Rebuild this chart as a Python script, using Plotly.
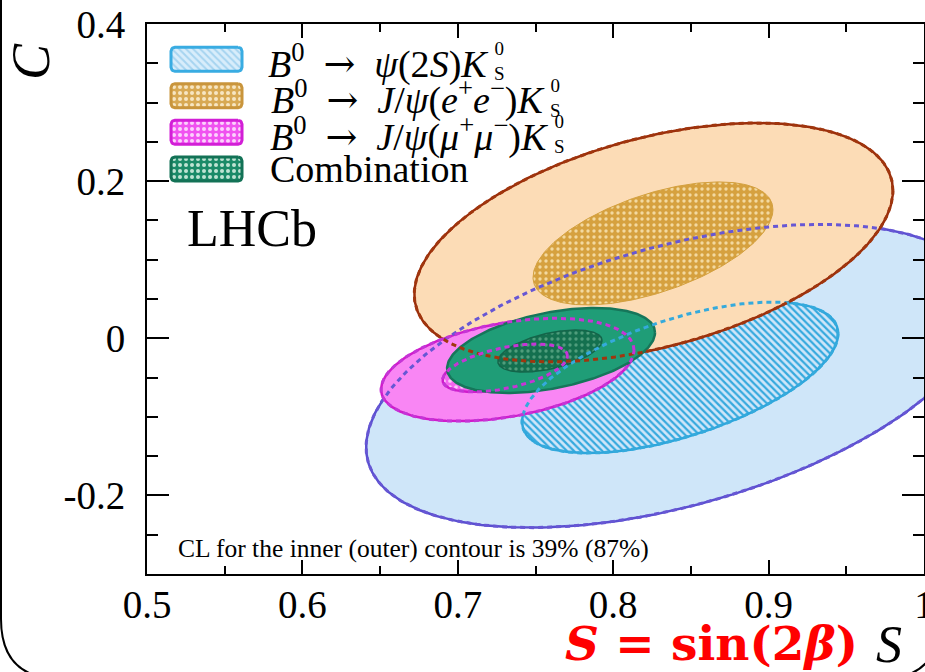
import numpy as np
import plotly.graph_objects as go

# ---------------- data ----------------
channels = ["psi2S", "Jpsi_ee", "Jpsi_mumu", "combination"]

# outer (87% CL) contours: centre, widths, correlation
S_outer = [0.840, 0.826, 0.732, 0.760]
C_outer = [-0.048, 0.122, -0.040, -0.0155]
sigS_outer = [0.199, 0.154, 0.0814, 0.0669]
sigC_outer = [0.193, 0.152, 0.0655, 0.0541]
rho_outer = [0.469, 0.434, 0.38, 0.42]

# inner (39% CL) contours
S_inner = [0.843, 0.8256, 0.7304, 0.7593]
C_inner = [-0.050, 0.1207, -0.0378, -0.0162]
sigS_inner = [0.1017, 0.0772, 0.0402, 0.0335]
sigC_inner = [0.0961, 0.0783, 0.0305, 0.0267]
rho_inner = [0.582, 0.55, 0.50, 0.50]

x_tickvals = [0.5, 0.6, 0.7, 0.8, 0.9, 1.0]
x_ticktext = ["0.5", "0.6", "0.7", "0.8", "0.9", "1"]
x_minor = [0.55, 0.65, 0.75, 0.85, 0.95]
y_tickvals = [-0.2, 0.0, 0.2, 0.4]
y_ticktext = ["-0.2", "0", "0.2", "0.4"]
y_minor = [-0.25, -0.15, -0.1, -0.05, 0.05, 0.1, 0.15, 0.25, 0.3, 0.35]

ARROW = '\u2002<span style="font-family:DejaVu Serif">→</span>\u2002'
legend_main = [
    "<i>B</i><sup>0</sup>" + ARROW + "<i>ψ</i>(2<i>S</i>)<i>K</i>",
    "<i>B</i><sup>0</sup>" + ARROW + "<i>J</i>/<i>ψ</i>(<i>e</i><sup>+</sup><i>e</i><sup>−</sup>)<i>K</i>",
    "<i>B</i><sup>0</sup>" + ARROW + "<i>J</i>/<i>ψ</i>(<i>μ</i><sup>+</sup><i>μ</i><sup>−</sup>)<i>K</i>",
    "Combination",
]
legend_scripts = "0<br>S"

# ---------------- styles ----------------
FONT = "Liberation Serif"
W, H = 925, 672
L, R, T, B = 147, 924, 24, 574  # plot area in pixels


def xp(px):
    return (px - L) / (R - L)


def yp(py):
    return (B - py) / (B - T)


def ellipse(cx, cy, sx, sy, rho, n=300):
    t = np.linspace(0, 2 * np.pi, n)
    x = cx + sx * np.cos(t)
    y = cy + sy * (rho * np.cos(t) + np.sqrt(1 - rho ** 2) * np.sin(t))
    return x, y


def rounded_rect(x0, x1, y0, y1, r, n=8):
    xs, ys = [], []
    corners = [(x1 - r, y0 + r, -np.pi / 2, 0), (x1 - r, y1 - r, 0, np.pi / 2),
               (x0 + r, y1 - r, np.pi / 2, np.pi), (x0 + r, y0 + r, np.pi, 1.5 * np.pi)]
    for cx, cy, a0, a1 in corners:
        a = np.linspace(a0, a1, n)
        xs += list(cx + r * np.cos(a))
        ys += list(cy + r * np.sin(a))
    xs.append(xs[0]); ys.append(ys[0])
    return xs, ys


fig = go.Figure()


def add_fill(x, y, line_color, line_width, fillcolor, pattern=None):
    kw = dict(x=x, y=y, mode="lines", fill="toself", fillcolor=fillcolor,
              line=dict(color=line_color, width=line_width),
              hoverinfo="skip", showlegend=False)
    if pattern is not None:
        kw["fillpattern"] = pattern
    fig.add_trace(go.Scatter(**kw))


# psi(2S) outer / inner
x, y = ellipse(S_outer[0], C_outer[0], sigS_outer[0], sigC_outer[0], rho_outer[0])
add_fill(x, y, "#5a4fd0", 2.5, "#cfe6f9")
x, y = ellipse(S_inner[0], C_inner[0], sigS_inner[0], sigC_inner[0], rho_inner[0])
add_fill(x, y, "#2ea6dc", 2.5, "#cfe6f9",
         dict(shape="\\", bgcolor="#cfe6f9", fgcolor="#35a9de", size=5, solidity=0.45, fillmode="replace"))
# J/psi ee outer / inner
x, y = ellipse(S_outer[1], C_outer[1], sigS_outer[1], sigC_outer[1], rho_outer[1])
add_fill(x, y, "#9b2e0a", 2.5, "#fcdcb6")
x, y = ellipse(S_inner[1], C_inner[1], sigS_inner[1], sigC_inner[1], rho_inner[1])
add_fill(x, y, "#d3a03e", 1, "#d6a13f",
         dict(shape=".", bgcolor="#d6a13f", fgcolor="#f3d9a0", size=6, solidity=0.25, fillmode="replace"))
# J/psi mumu outer / inner
x, y = ellipse(S_outer[2], C_outer[2], sigS_outer[2], sigC_outer[2], rho_outer[2])
add_fill(x, y, "#d01ccc", 2.5, "#f986f4")
x, y = ellipse(S_inner[2], C_inner[2], sigS_inner[2], sigC_inner[2], rho_inner[2])
add_fill(x, y, "#d01ccc", 2.5, "#f266ee",
         dict(shape=".", bgcolor="#f266ee", fgcolor="#fbc6fa", size=6, solidity=0.3, fillmode="replace"))
# combination outer / inner
x, y = ellipse(S_outer[3], C_outer[3], sigS_outer[3], sigC_outer[3], rho_outer[3])
add_fill(x, y, "#16765a", 2.5, "#1f9d77")
x, y = ellipse(S_inner[3], C_inner[3], sigS_inner[3], sigC_inner[3], rho_inner[3])
add_fill(x, y, "#14654a", 1.5, "#14704f",
         dict(shape=".", bgcolor="#14704f", fgcolor="#4f9d7c", size=6, solidity=0.25, fillmode="replace"))

# dotted overlays of hidden contours
dotted = [
    (S_outer[0], C_outer[0], sigS_outer[0], sigC_outer[0], rho_outer[0], "#6757d4"),
    (S_inner[0], C_inner[0], sigS_inner[0], sigC_inner[0], rho_inner[0], "#35aadc"),
    (S_outer[1], C_outer[1], sigS_outer[1], sigC_outer[1], rho_outer[1], "#a0360e"),
    (S_outer[2], C_outer[2], sigS_outer[2], sigC_outer[2], rho_outer[2], "#c535d6"),
    (S_inner[2], C_inner[2], sigS_inner[2], sigC_inner[2], rho_inner[2], "#c535d6"),
]
for cx, cy, sx, sy, rho, col in dotted:
    x, y = ellipse(cx, cy, sx, sy, rho, n=400)
    fig.add_trace(go.Scatter(x=x, y=y, mode="lines",
                             line=dict(color=col, width=3, dash="5px,4px"),
                             hoverinfo="skip", showlegend=False))

# ---------------- legend (pixel overlay axes) ----------------
leg_y = [59.3, 95.7, 132.3, 169.0]
sw_styles = [
    ("#39ace2", dict(shape="\\", bgcolor="#d8edfb", fgcolor="#a6d4f0", size=5, solidity=0.4, fillmode="replace")),
    ("#c9953c", dict(shape=".", bgcolor="#d8a953", fgcolor="#f7e6c2", size=6, solidity=0.35, fillmode="replace")),
    ("#d21fd6", dict(shape=".", bgcolor="#f052f0", fgcolor="#fcd2fc", size=6, solidity=0.35, fillmode="replace")),
    ("#137256", dict(shape=".", bgcolor="#1a8a68", fgcolor="#bfe3d3", size=6, solidity=0.35, fillmode="replace")),
]
for yc, (lc, pat) in zip(leg_y, sw_styles):
    xs, ys = rounded_rect(171, 242, yc - 12, yc + 12, 4)
    fig.add_trace(go.Scatter(x=xs, y=ys, xaxis="x2", yaxis="y2", mode="lines",
                             fill="toself", fillcolor=pat["bgcolor"], fillpattern=pat,
                             line=dict(color=lc, width=3), hoverinfo="skip", showlegend=False))

annotations = []
k_end = [490, 546, 550]
for i, (yc, txt) in enumerate(zip(leg_y, legend_main)):
    if i < 3:
        annotations.append(dict(x=xp(k_end[i]), y=yp(yc + 2), xref="paper", yref="paper", text=txt,
                                showarrow=False, xanchor="right", yanchor="middle",
                                font=dict(family=FONT, size=38, color="black")))
        annotations.append(dict(x=xp(k_end[i] + 2), y=yp(yc + 2), xref="paper", yref="paper",
                                text=legend_scripts, showarrow=False, xanchor="left", yanchor="middle",
                                font=dict(family=FONT, size=19, color="black")))
    else:
        annotations.append(dict(x=xp(268), y=yp(yc), xref="paper", yref="paper", text=txt,
                                showarrow=False, xanchor="left", yanchor="middle",
                                font=dict(family=FONT, size=38, color="black")))

annotations += [
    dict(x=xp(252), y=yp(229), xref="paper", yref="paper", text="LHCb", showarrow=False,
         xanchor="center", yanchor="middle", font=dict(family=FONT, size=52, color="black")),
    dict(x=xp(176), y=yp(548), xref="paper", yref="paper",
         text="CL for the inner (outer) contour is 39% (87%)",
         showarrow=False, xanchor="left", yanchor="middle",
         font=dict(family=FONT, size=25.5, color="black")),
    dict(x=xp(31), y=yp(62), xref="paper", yref="paper", text="<i>C</i>", textangle=-90, showarrow=False,
         xanchor="center", yanchor="middle", font=dict(family=FONT, size=54, color="black")),
    dict(x=xp(889), y=yp(644), xref="paper", yref="paper", text="<i>S</i>", showarrow=False,
         xanchor="center", yanchor="middle", font=dict(family=FONT, size=52, color="black")),
    dict(x=xp(563), y=yp(643), xref="paper", yref="paper", text="<b><i>S</i> = sin(2<i>β</i>)</b>",
         showarrow=False, xanchor="left", yanchor="middle",
         font=dict(family="DejaVu Serif", size=47, color="#ff0000")),
]

# rounded slide frame (paper coordinates)
frame_path = (f"M {xp(1)},{yp(-20)} L {xp(1)},{yp(619)} Q {xp(1)},{yp(679)} {xp(61)},{yp(679)} "
              f"L {xp(880)},{yp(679)} Q {xp(940)},{yp(679)} {xp(940)},{yp(619)} L {xp(940)},{yp(-20)}")

axis_common = dict(showgrid=False, zeroline=False, showline=True, linewidth=2, linecolor="black",
                   mirror="ticks", ticks="inside", tickwidth=2, tickcolor="black",
                   ticklabeloverflow="allow",
                   tickfont=dict(family=FONT, size=39, color="black"), automargin=False)

fig.update_layout(
    width=W, height=H,
    margin=dict(l=L, r=W - R, t=T, b=H - B, pad=0),
    paper_bgcolor="white", plot_bgcolor="white",
    showlegend=False,
    xaxis=dict(range=[0.5, 1.0], tickmode="array", tickvals=x_tickvals, ticktext=x_ticktext,
               ticklen=14, ticklabelstandoff=-5,
               minor=dict(tickmode="array", tickvals=x_minor, ticks="inside", ticklen=8,
                          tickwidth=2, tickcolor="black"),
               **axis_common),
    yaxis=dict(range=[-0.3, 0.4], tickmode="array", tickvals=y_tickvals, ticktext=y_ticktext,
               ticklen=22, ticklabelstandoff=12,
               minor=dict(tickmode="array", tickvals=y_minor, ticks="inside", ticklen=11,
                          tickwidth=2, tickcolor="black"),
               **axis_common),
    xaxis2=dict(overlaying="x", range=[L, R], visible=False, fixedrange=True),
    yaxis2=dict(overlaying="y", range=[B, T], visible=False, fixedrange=True),
    annotations=annotations,
    shapes=[dict(type="path", xref="paper", yref="paper", path=frame_path,
                 line=dict(color="black", width=2))],
)

fig.write_html("out.html")
